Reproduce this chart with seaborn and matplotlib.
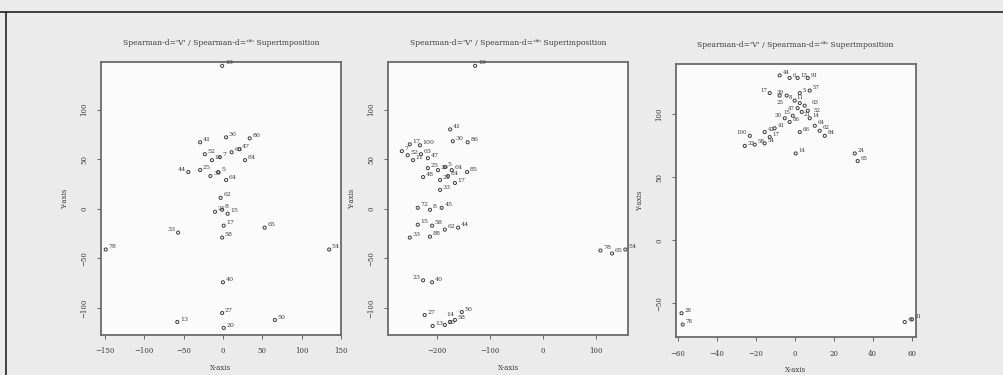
import matplotlib
matplotlib.use("Agg")
import matplotlib.pyplot as plt
from matplotlib.lines import Line2D
import pandas as pd
import seaborn as sns

# panel 1
p1_x = [-1, -29, 4, 34, -23, -14, -4, 11, 21, 28, -44, -29, -16, -6, 4,
        -3, -10, -1, 6, 1, -1, 53, -57, -149, 135, 0, -1, -58, 1, 66]
p1_y = [144, 67, 72, 71, 55, 49, 52, 57, 60, 49, 37, 39, 33, 37, 29,
        11, -3, -1, -5, -17, -29, -19, -24, -41, -41, -74, -105, -114, -120, -112]
p1_lab = ["19", "41", "30", "86", "52", "11", "7", "63", "47", "84", "44", "25", "39", "5", "64",
          "62", "21", "8", "15", "17", "58", "65", "33", "78", "54", "40", "27", "13", "20", "50"]

# panel 2
p2_x = [-128, -175, -170, -142, -251, -232, -266, -255, -245, -230, -217, -217, -198, -185,
        -172, -179, -143, -226, -194, -166, -194, -236, -213, -191, -236, -209, -185, -160,
        -251, -213, 108, 130, 155, -226, -209, -223, -208, -185, -166, -153, -175]
p2_y = [144, 80, 68, 67, 65, 64, 58, 54, 49, 55, 51, 41, 39, 42,
        39, 33, 37, 32, 29, 26, 19, 1, -1, 1, -16, -17, -21, -19,
        -29, -28, -42, -45, -41, -72, -74, -107, -118, -117, -112, -104, -114]
p2_lab = ["19", "41", "30", "86", "17", "100", "7", "52", "11", "63", "47", "25", "39", "5",
          "64", "84", "85", "48", "21", "17", "33", "72", "8", "45", "15", "58", "62", "44",
          "33", "88", "78", "65", "54", "23", "40", "27", "13", "20", "58", "50", "14"]

# panel 3
p3_x = [-7.7, -2.6, 1.5, 6.7, -12.8, -7.7, -4.1, 2.6, 7.7, 0, 2.6, 5.1, 1.5, 3.6, -1, 6.7,
        -5.1, -2.6, 7.7, -15.4, -10.3, 10.3, 12.8, 15.4, -23, -12.8, 2.6, -25.6, -20.5,
        -15.4, 0.5, 30.8, 32.3, -58, -57.4, 56.4, 60]
p3_y = [131, 129, 129, 129, 117, 115, 115, 117, 119, 111, 109, 107, 105, 102, 99, 103,
        97, 94, 97, 86, 89, 91, 87, 83, 83, 82, 86, 75, 76,
        77, 69, 69, 63, -58, -67, -65, -63]
p3_lab = ["44", "6", "13", "91", "17", "25", "39", "5", "57", "8", "11", "63", "47", "21", "15", "52",
          "30", "86", "14", "42", "41", "64", "62", "84", "100", "17", "66", "33", "58",
          "54", "14", "24", "65", "28", "78", "40", "31"]

titles = ["Spearman-d='V' / Spearman-d='*' Superimposition"] * 3
x_ticks = [[-150, -100, -50, 0, 50, 100, 150], [-200, -100, 0, 100], [-60, -40, -20, 0, 20, 40, 60]]
y_ticks = [[-100, -50, 0, 50, 100], [-100, -50, 0, 50, 100], [-50, 0, 50, 100]]
x_lims = [(-155, 148), (-292, 160), (-61, 62)]
y_lims = [(-127, 148), (-127, 148), (-77, 140)]

# label placement for crowded points: index -> (dx, dy, ha) in points
RIGHT = (2, 1, "left")
LEFT = (-2, 1, "right")
p1_place = {10: LEFT, 22: LEFT}
p2_place = {33: LEFT, 40: (0, 4, "center")}
p3_place = {4: LEFT, 5: (0, -6, "center"), 6: LEFT, 9: LEFT, 10: (0, 3, "center"),
            11: (5, 1, "left"), 12: (-2, -1, "right"), 13: (1, -3, "left"), 14: LEFT,
            15: (4, -1, "left"), 16: LEFT, 24: LEFT}
label_size = [4.5, 4.5, 4.0]

sns.set_theme(style="white")
plt.rcParams["font.family"] = ["DejaVu Serif"]

ink = "#3a3a3a"
fig = plt.figure(figsize=(10.04, 3.75), dpi=100, facecolor="#ebebeb")

axes_pos = [
    [0.1006, 0.107, 0.239, 0.728],
    [0.3865, 0.107, 0.239, 0.728],
    [0.673, 0.101, 0.239, 0.728],
]

panels = [(p1_x, p1_y, p1_lab, p1_place), (p2_x, p2_y, p2_lab, p2_place),
          (p3_x, p3_y, p3_lab, p3_place)]

for i, (xs, ys, labs, place) in enumerate(panels):
    ax = fig.add_axes(axes_pos[i])
    ax.set_facecolor("#fbfbfb")
    df = pd.DataFrame({"x": xs, "y": ys, "lab": labs})
    sns.scatterplot(data=df, x="x", y="y", ax=ax, marker="o", s=5,
                    facecolor="none", edgecolor=ink, linewidth=0.7)
    for k, r in df.iterrows():
        dx, dy, ha = place.get(k, RIGHT)
        ax.annotate(r["lab"], (r["x"], r["y"]), xytext=(dx, dy), textcoords="offset points",
                    fontsize=label_size[i], color=ink, ha=ha)
    ax.set_xlim(*x_lims[i])
    ax.set_ylim(*y_lims[i])
    ax.set_xticks(x_ticks[i])
    ax.set_yticks(y_ticks[i])
    ax.tick_params(axis="both", direction="out", length=3, width=0.7, colors="#666666",
                   labelsize=5, labelcolor=ink, pad=6)
    ax.tick_params(axis="both", which="both", bottom=True, left=True)
    for lbl in ax.get_yticklabels():
        lbl.set_rotation(90)
        lbl.set_va("center")
    for sp in ax.spines.values():
        sp.set_color("#6a6a6a")
        sp.set_linewidth(1.3)
    ax.set_xlabel("X-axis", fontsize=5, color=ink, labelpad=6)
    ax.set_ylabel("Y-axis", fontsize=5, color=ink, labelpad=8)
    ax.set_title(titles[i], fontsize=5.5, color=ink, pad=12)

# scanned page frame
fig.add_artist(Line2D([0, 1], [1 - 12 / 375, 1 - 12 / 375], transform=fig.transFigure,
                      color="#222222", linewidth=1.2))
fig.add_artist(Line2D([6 / 1004, 6 / 1004], [0, 1 - 12 / 375], transform=fig.transFigure,
                      color="#222222", linewidth=1.2))

fig.savefig("out.png", dpi=100, facecolor=fig.get_facecolor())
